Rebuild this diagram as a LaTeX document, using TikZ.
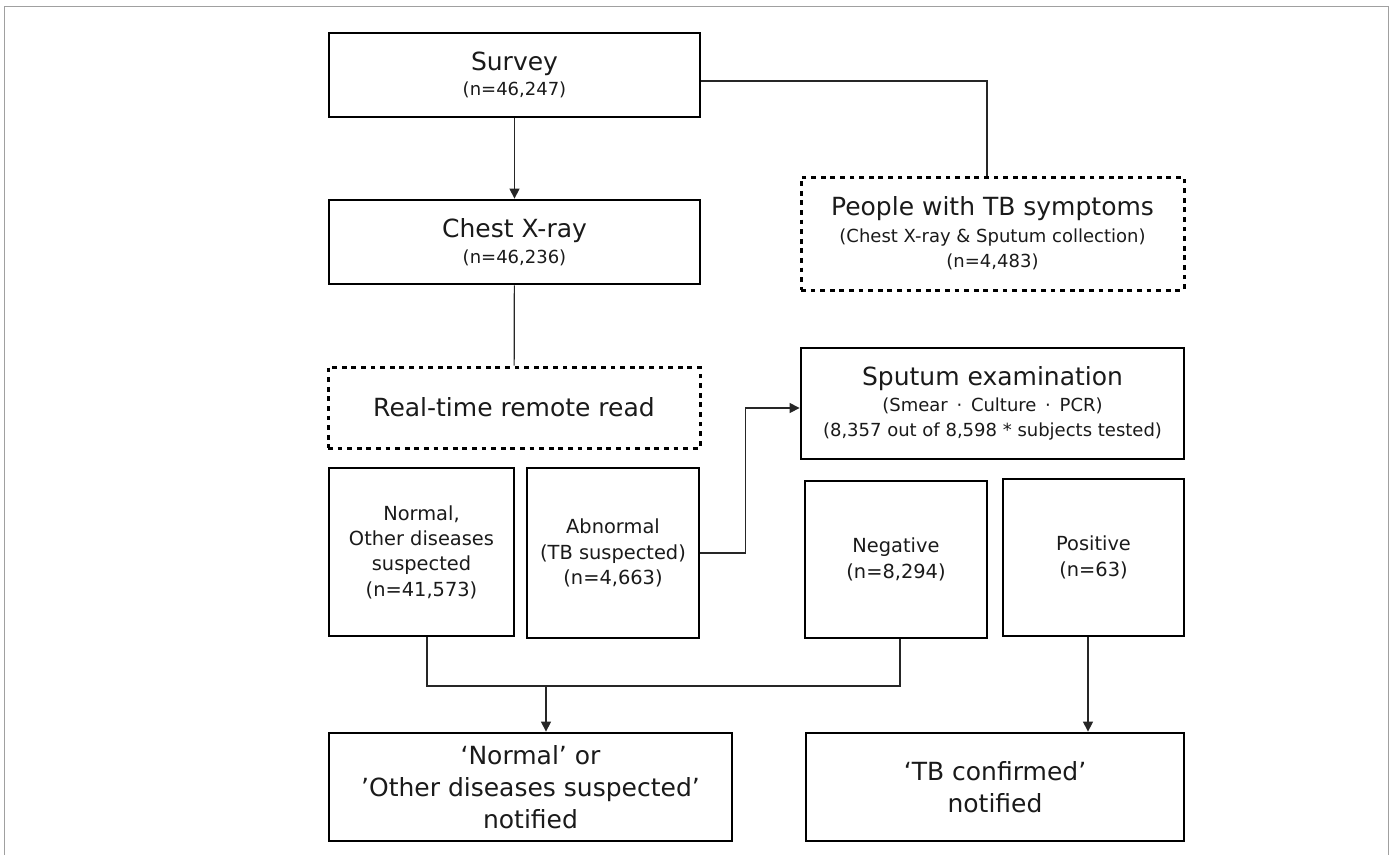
\documentclass[tikz,border=0pt]{standalone}
\usepackage{fontspec}
\setmainfont{DejaVu Sans}
\usetikzlibrary{arrows.meta}
\newcommand{\szL}{\fontsize{25}{32}\selectfont}
\newcommand{\szS}{\fontsize{18}{25.5}\selectfont}
\newcommand{\szM}{\fontsize{19.4}{25.3}\selectfont}
\definecolor{txt}{HTML}{1A1A1A}
\definecolor{frame}{HTML}{A0A0A0}
\begin{document}
\begin{tikzpicture}[x=1pt,y=-1pt,
  box/.style={draw=black, line width=2.8pt, inner sep=0pt, align=center, text=txt},
  dotbox/.style={box, line width=3pt, dash pattern=on 4.8pt off 4.8pt},
  conn/.style={line width=1.2pt, draw=black!85},
  arr/.style={conn, -{Triangle[width=10pt,length=10pt]}}]
\useasboundingbox (0,0) rectangle (1393,855);
\draw[frame, line width=1.5pt] (4.5,855) -- (4.5,6.5) -- (1388.5,6.5) -- (1388.5,855);

\node[box, font=\szS, minimum width=371pt, minimum height=84pt] (survey) at (514.5,75)
  {{\szL Survey}\\(n=46,247)};
\node[box, font=\szS, minimum width=371pt, minimum height=84pt] (chest) at (514.5,242)
  {{\szL Chest X-ray}\\(n=46,236)};
\node[dotbox, font=\szS, minimum width=383pt, minimum height=113pt] (people) at (992.5,233.5)
  {{\szL People with TB symptoms}\\[1pt](Chest X-ray \& Sputum collection)\\(n=4,483)};
\node[dotbox, font=\szL, minimum width=372pt, minimum height=81pt] (read) at (514,407.5)
  {Real-time remote read};
\node[box, font=\szM, minimum width=185pt, minimum height=168pt] (normal) at (421.5,552)
  {Normal,\\Other diseases\\suspected\\(n=41,573)};
\node[box, font=\szM, minimum width=172pt, minimum height=170pt] (abn) at (613,553)
  {Abnormal\\(TB suspected)\\(n=4,663)};
\node[box, font=\szS, minimum width=383pt, minimum height=111pt] (sputum) at (992.5,403.5)
  {{\szL Sputum examination}\\(Smear \,·\, Culture \,·\, PCR)\\(8,357 out of 8,598 * subjects tested)};
\node[box, font=\szM, minimum width=182pt, minimum height=157pt] (neg) at (896,559.5)
  {Negative\\(n=8,294)};
\node[box, font=\szM, minimum width=181pt, minimum height=157pt] (pos) at (1093.5,557.5)
  {Positive\\(n=63)};
\node[box, font=\szL, minimum width=403pt, minimum height=108pt] (leftnot) at (530.5,787)
  {‘Normal’ or\\’Other diseases suspected’\\notified};
\node[box, font=\szL, minimum width=378pt, minimum height=108pt] (rightnot) at (995,787)
  {‘TB confirmed’\\notified};

\coordinate (j) at (546,686);

\draw[arr] (survey) -- (chest);
\draw[conn] ([yshift=-6pt]survey.east) -| ([xshift=-5.5pt]people.north);
\draw[conn] (chest) -- (read);
\draw[arr] (abn.east) -- ++(45,0) |- ([yshift=-4.5pt]sputum.west);
\draw[conn] ([xshift=5.5pt]normal.south) |- (j) -| ([xshift=4pt]neg.south);
\draw[arr] (j) -- (j |- leftnot.north);
\draw[arr] ([xshift=-5.5pt]pos.south) -- ([xshift=-5.5pt]pos.south |- rightnot.north);
\end{tikzpicture}
\end{document}
